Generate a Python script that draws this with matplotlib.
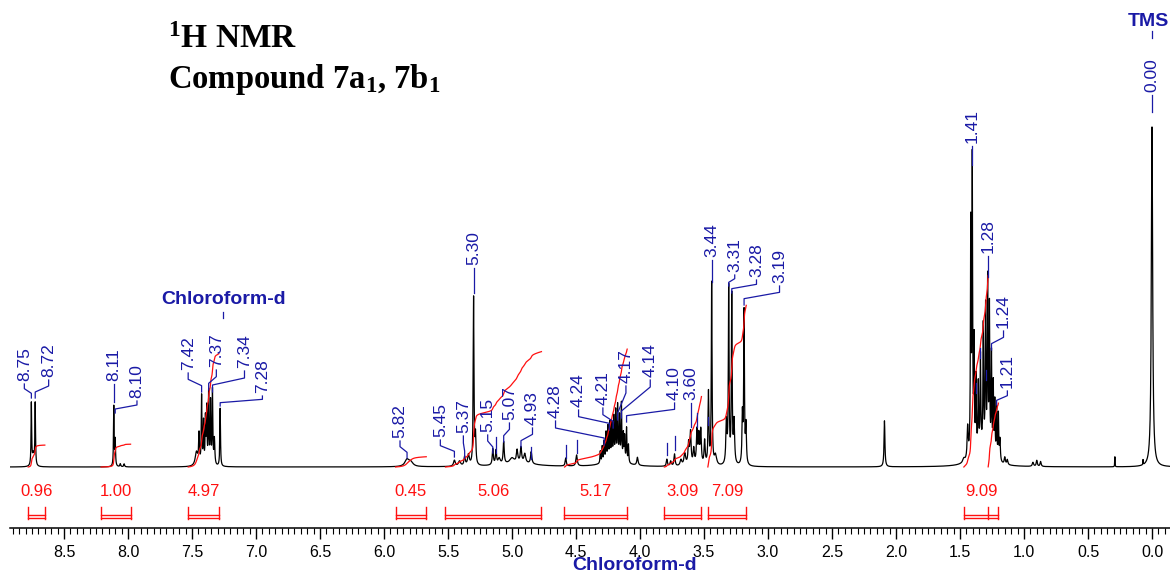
import numpy as np
import matplotlib
matplotlib.use("Agg")
import matplotlib.pyplot as plt
from matplotlib.ticker import MultipleLocator, FormatStrFormatter

plt.rcParams["font.family"] = "Liberation Sans"
plt.rcParams["mathtext.fontset"] = "custom"
plt.rcParams["mathtext.rm"] = "Liberation Serif:bold"
plt.rcParams["mathtext.it"] = "Liberation Serif:bold"
plt.rcParams["mathtext.bf"] = "Liberation Serif:bold"

# peak table: shift (ppm), height, half width at half height (ppm)
peak_ppm = [8.755, 8.725, 8.740, 8.111, 8.100, 8.060, 8.030,
            7.465, 7.445, 7.425, 7.410, 7.395, 7.385, 7.370, 7.355, 7.340, 7.325, 7.280,
            5.82, 5.79, 5.45, 5.41, 5.37, 5.34, 5.30, 5.285,
            5.15, 5.125, 5.10, 5.065, 5.00, 4.96, 4.93, 4.90, 4.85, 4.95,
            4.58, 4.495,
            4.31, 4.295, 4.28, 4.265, 4.25, 4.235, 4.22, 4.205, 4.19, 4.175,
            4.16, 4.145, 4.13, 4.12, 4.105, 4.09, 4.02, 4.20,
            3.79, 3.76, 3.73, 3.68, 3.65, 3.62, 3.605, 3.58, 3.555, 3.54, 3.525,
            3.495, 3.465, 3.440, 3.41,
            3.325, 3.307, 3.283, 3.265, 3.200, 3.187, 3.172,
            2.09,
            1.47, 1.44, 1.416, 1.404, 1.390, 1.375, 1.357, 1.340, 1.318, 1.300,
            1.284, 1.270, 1.254, 1.240, 1.228, 1.214, 1.200, 1.188, 1.33,
            1.15, 1.13, 0.93, 0.90, 0.87, 0.29, 0.07, 0.000]
peak_height = [62, 62, 12, 60, 26, 3, 3,
               14, 30, 68, 42, 45, 55, 72, 62, 74, 26, 58,
               7, 4, 6, 5, 9, 11, 168, 28,
               16, 14, 6, 22, 5, 12, 15, 9, 12, 4,
               8, 11,
               12, 16, 20, 28, 33, 36, 34, 40, 46, 52,
               42, 56, 26, 24, 34, 18, 8, 8,
               7, 5, 12, 6, 12, 22, 32, 16, 34, 28, 34,
               24, 72, 182, 10,
               42, 176, 168, 42, 48, 152, 38,
               46,
               4, 32, 228, 290, 108, 72, 64, 90, 120, 140,
               170, 145, 100, 72, 55, 50, 46, 22, 18,
               7, 5, 4, 6, 5, 10, 5, 340]
peak_hwhm = [0.0028, 0.0028, 0.008, 0.0028, 0.003, 0.004, 0.004,
             0.012, 0.004, 0.003, 0.003, 0.003, 0.003, 0.003, 0.003, 0.003, 0.004, 0.003,
             0.02, 0.02, 0.008, 0.01, 0.006, 0.008, 0.0035, 0.004,
             0.005, 0.005, 0.01, 0.005, 0.02, 0.006, 0.006, 0.008, 0.006, 0.15,
             0.005, 0.006,
             0.003, 0.003, 0.003, 0.003, 0.003, 0.003, 0.003, 0.003, 0.003, 0.003,
             0.003, 0.003, 0.003, 0.003, 0.003, 0.003, 0.006, 0.08,
             0.005, 0.006, 0.005, 0.008, 0.008, 0.006, 0.005, 0.006, 0.005, 0.005, 0.005,
             0.005, 0.004, 0.0035, 0.01,
             0.005, 0.0035, 0.0035, 0.005, 0.004, 0.0035, 0.004,
             0.004,
             0.01, 0.005, 0.003, 0.003, 0.003, 0.003, 0.003, 0.003, 0.003, 0.003,
             0.003, 0.003, 0.003, 0.003, 0.003, 0.003, 0.003, 0.004, 0.06,
             0.005, 0.005, 0.006, 0.005, 0.005, 0.0015, 0.0015, 0.006]

# peak picking
pick_labels = ["8.75", "8.72", "8.11", "8.10", "7.42", "7.37", "7.34", "7.28",
               "5.82", "5.45", "5.37", "5.30", "5.15", "5.07", "4.93",
               "4.28", "4.24", "4.21", "4.17", "4.14", "4.10", "3.60",
               "3.44", "3.31", "3.28", "3.19", "1.41", "1.28", "1.24", "1.21", "0.00"]
pick_ppm = [8.755, 8.725, 8.111, 8.100, 7.425, 7.370, 7.340, 7.280,
            5.82, 5.45, 5.37, 5.30, 5.15, 5.065, 4.93,
            4.28, 4.24, 4.21, 4.175, 4.145, 4.105, 3.605,
            3.44, 3.307, 3.283, 3.187, 1.404, 1.284, 1.254, 1.214, 0.0]
# where each label sits: shift of the text, bottom of the text, lower end of the leader
pick_text_ppm = [8.81, 8.62, 8.111, 7.93, 7.53, 7.31, 7.09, 6.95,
                 5.875, 5.56, 5.38, 5.30, 5.19, 5.02, 4.84,
                 4.66, 4.48, 4.29, 4.11, 3.92, 3.73, 3.605,
                 3.44, 3.26, 3.09, 2.91, 1.404, 1.284, 1.16, 1.13, 0.0]
pick_text_y = [86, 90, 86, 69, 97, 100, 99, 74,
               29, 30, 34, 202, 35, 47, 42,
               49, 60, 62, 84, 90, 67, 67,
               210, 195, 190, 184, 324, 214, 139, 79, 375]
pick_tip_y = [69, 69, 65, 54, 75, 77, 75, 61,
              9, 10, 9, 174, 14, 25, 20,
              22, 37, 39, 47, 49, 45, 40,
              185, 181, 174, 162, 302, 190, 117, 62, 355]

# short unlabeled pick marks
mark_ppm = [5.125, 4.85, 4.58, 4.495, 3.79, 3.73, 3.555, 3.47, 1.375, 1.34, 1.30]
mark_lo = [14, 8, 9, 14, 12, 17, 40, 42, 74, 109, 87]
mark_hi = [30, 20, 22, 27, 24, 31, 54, 50, 84, 119, 97]

# integration ranges and values
int_hi = [8.78, 8.21, 7.53, 5.91, 5.52, 4.59, 3.81, 3.47, 1.47]
int_lo = [8.65, 7.98, 7.29, 5.67, 4.77, 4.10, 3.52, 3.17, 1.20]
int_text = ["0.96", "1.00", "4.97", "0.45", "5.06", "5.17", "3.09", "7.09", "9.09"]
# integral traces (the last range is drawn in two parts split at 1.28 ppm)
curve_hi = [8.78, 8.21, 7.53, 5.91, 5.52, 4.59, 3.81, 3.47, 1.47, 1.28]
curve_lo = [8.65, 7.98, 7.29, 5.67, 4.77, 4.10, 3.52, 3.17, 1.28, 1.20]
curve_val = [0.96, 1.00, 4.97, 0.45, 5.06, 5.17, 3.09, 7.09, 8.4, 2.8]

blue = "#1a1aa6"
red = "#ff1010"

x = np.linspace(-0.15, 8.93, 60000)
spec = np.zeros_like(x)
for p, h, w in zip(peak_ppm, peak_height, peak_hwhm):
    spec += h / (1 + ((x - p) / w) ** 2)

fig = plt.figure(figsize=(11.7, 5.76), dpi=100)
ax = fig.add_axes([10 / 1170, 48 / 576, 1160 / 1170, 528 / 576])
ax.set_xlim(8.922, -0.1406)
ax.set_ylim(-61, 467)

ax.plot(x, spec, color="black", lw=0.9)

# integral traces
for hi, lo, v in zip(curve_hi, curve_lo, curve_val):
    m = (x <= hi) & (x >= lo)
    xs = x[m][::-1]
    cs = np.cumsum(spec[m][::-1])
    ax.plot(xs, cs / cs[-1] * v * 22.8, color=red, lw=0.9)

# integral brackets
for hi, lo, t in zip(int_hi, int_lo, int_text):
    ax.plot([hi, hi], [-40, -52], color=red, lw=1)
    ax.plot([lo, lo], [-40, -52], color=red, lw=1)
    ax.plot([hi, lo], [-48, -48], color=red, lw=1)
    ax.plot([hi, lo], [-51, -51], color=red, lw=1)
    ax.text((hi + lo) / 2, -25, t, color=red, fontsize=12, ha="center", va="center")
ax.plot([1.28, 1.28], [-40, -52], color=red, lw=1)

# peak labels with leaders
for lab, p, q, tb, tip in zip(pick_labels, pick_ppm, pick_text_ppm, pick_text_y, pick_tip_y):
    top = tb - 3
    if abs(p - q) < 0.005:
        ax.plot([p, p], [tip, top], color=blue, lw=0.9)
    else:
        seg = min(7, (top - tip) / 3)
        ax.plot([p, p, q, q], [tip, tip + seg, top - seg, top], color=blue, lw=0.9)
    ax.text(q, tb, lab, rotation=90, ha="center", va="bottom", color=blue, fontsize=12.5)

for p, lo, hi in zip(mark_ppm, mark_lo, mark_hi):
    ax.plot([p, p], [lo, hi], color=blue, lw=0.9)

# solvent and reference
ax.plot([7.26, 7.26], [149, 155], color=blue, lw=0.9)
ax.text(7.25, 167, "Chloroform-d", color=blue, fontsize=14, fontweight="bold",
        ha="center", va="center")
ax.plot([0.0, 0.0], [429, 436], color=blue, lw=0.9)
fig.text(1169 / 1170, 1 - 21 / 576, "TMS", color=blue, fontsize=14, fontweight="bold",
         ha="right", va="center")

for s in ["top", "left", "right"]:
    ax.spines[s].set_visible(False)
ax.spines["bottom"].set_linewidth(1.1)
ax.set_yticks([])
ax.xaxis.set_major_locator(MultipleLocator(0.5))
ax.xaxis.set_minor_locator(MultipleLocator(0.05))
ax.xaxis.set_major_formatter(FormatStrFormatter("%.1f"))
ax.tick_params(axis="x", which="major", length=8, width=1, labelsize=11.5, pad=4)
ax.tick_params(axis="x", which="minor", length=4, width=0.8)
ax.patch.set_alpha(0)

fig.text(635 / 1170, 1 - 566 / 576, "Chloroform-d", color=blue, fontsize=14,
         fontweight="bold", ha="center", va="center")

fig.text(168 / 1170, 1 - 48 / 576, r"$^{1}$H NMR", fontsize=24,
         fontfamily="Liberation Serif", fontweight="bold", va="baseline")
fig.text(168 / 1170, 1 - 88 / 576, r"Compound 7a$_{1}$, 7b$_{1}$", fontsize=23.5,
         fontfamily="Liberation Serif", fontweight="bold", va="baseline")

fig.savefig("out.png", dpi=100)
